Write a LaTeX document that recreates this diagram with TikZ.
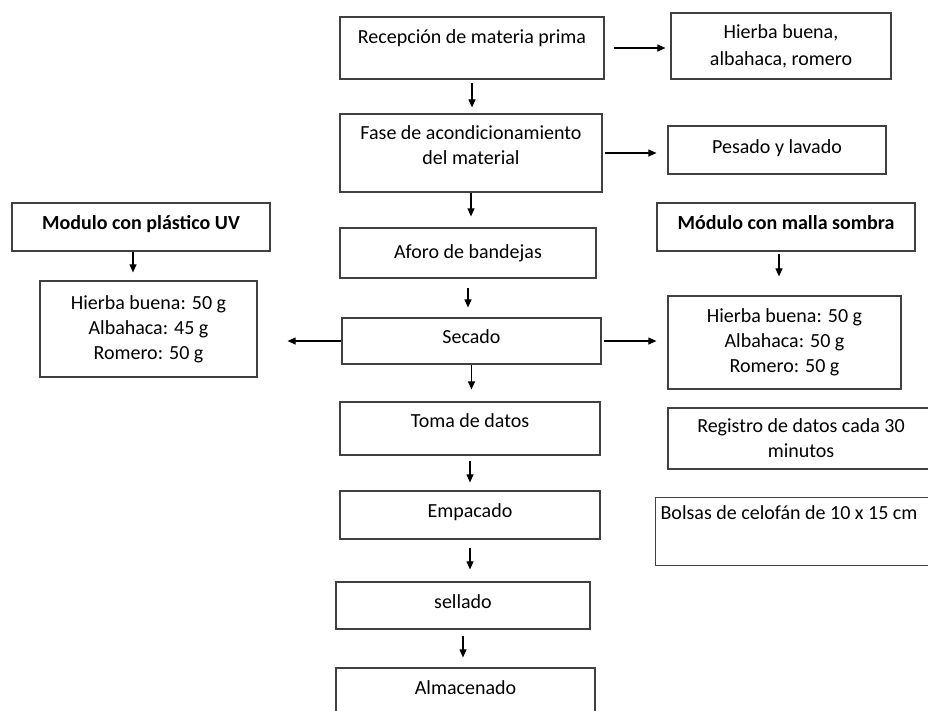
\documentclass[tikz,border=0pt]{standalone}
\usepackage{fontspec}
\setmainfont{Carlito}
\usetikzlibrary{arrows.meta}
\tikzset{
	box/.style = {draw=black!75, line width=1.2pt, align=center, inner sep=0pt},
	textup/.style 2 args = {text height=#1pt, text depth=#2pt},
	arr/.style = {-{Triangle[length=8pt,width=7pt]}, line width=1.1pt},
	flow/.style = {arr, shorten <=4pt, shorten >=9pt}}

\begin{document}
\begin{tikzpicture}[x=1pt, y=-1pt, node font=\fontsize{20}{25}\selectfont]
\useasboundingbox (0,0) rectangle (928,710);

% MAIN COLUMN
\node (rec) [box, minimum width=264pt, textup={26}{36}] at (472,48) {Recepción de materia prima};
\node (fase) [box, minimum width=262pt, text width=250pt, align=flush center, textup={25}{53}] at (471,153) {Fase de acondicionamiento\\del material};
\node (aforo) [box, minimum width=256pt, minimum height=50pt] at (468,253) {Aforo de bandejas};
\node (secado) [box, minimum width=259pt, textup={25}{21}] at (471.5,341) {Secado};
\node (toma) [box, minimum width=260pt, textup={25}{28}] at (470,428.5) {Toma de datos};
\node (empacado) [box, minimum width=260pt, textup={26}{22}] at (470,515) {Empacado};
\node (sellado) [box, minimum width=254pt, textup={26}{21}] at (463,605.5) {sellado};
\node (almacen) [box, minimum width=259pt, textup={26}{34}] at (465.5,698) {Almacenado};

% RIGHT COLUMN
\node (hierbas) [box, minimum width=220pt, minimum height=66pt] at (781,46) {Hierba buena,\\[2pt]albahaca, romero};
\node (pesado) [box, minimum width=218pt, textup={27}{21}] at (777,150) {Pesado y lavado};
\node (malla) [box, minimum width=258pt, textup={26}{22}, font=\bfseries] at (786,227) {Módulo con malla sombra};
\node (mallaqty) [box, minimum width=233pt, minimum height=93pt] at (784.5,342.5) {Hierba buena: 50 g\\Albahaca: 50 g\\Romero: 50 g};
\node (registro) [box, minimum width=266pt, minimum height=61pt] at (801,438.5) {Registro de datos cada 30\\minutos};
\node (bolsas) [box, anchor=north west, text width=290pt, align=flush left, inner xsep=5pt, textup={22}{46}] at (655,497) {Bolsas de celofán de 10 x 15 cm};

% LEFT COLUMN
\node (uv) [box, minimum width=258pt, textup={26}{22}, font=\bfseries] at (141,227) {Modulo con plástico UV};
\node (uvqty) [box, minimum width=217pt, minimum height=96pt] at (148.5,329) {Hierba buena: 50 g\\Albahaca: 45 g\\Romero: 50 g};

% CONNECTIONS
\draw [flow, shorten <=3pt, shorten >=6pt] (rec.south) -- (rec.south |- fase.north);
\draw [flow, shorten <=0pt, shorten >=11pt] (fase.south) -- (fase.south |- aforo.north);
\draw [flow, shorten <=9pt, shorten >=10pt] (aforo.south) -- (aforo.south |- secado.north);
\draw [flow, shorten <=0pt, shorten >=12pt] (secado.south) -- (secado.south |- toma.north);
\draw [flow, shorten <=5pt, shorten >=8pt] (toma.south) -- (toma.south |- empacado.north);
\draw [flow, shorten <=8pt, shorten >=12pt] (empacado.south) -- (empacado.south |- sellado.north);
\draw [flow, shorten <=6pt, shorten >=10pt] (sellado.south) -- (sellado.south |- almacen.north);

\draw [arr, shorten <=9pt, shorten >=5pt] (rec.east) -- (rec.east -| hierbas.west);
\draw [arr, shorten <=2pt, shorten >=11pt] (fase.east) -- (fase.east -| pesado.west);
\draw [arr, shorten <=2pt, shorten >=11pt] (secado.east) -- (secado.east -| mallaqty.west);
\draw [arr, shorten >=30pt] (secado.west) -- (secado.west -| uvqty.east);

\draw [arr, shorten >=8pt] ([xshift=-8pt]uv.south) -- ([xshift=-8pt]uv.south |- uvqty.north);
\draw [arr, shorten <=2pt, shorten >=19pt] ([xshift=-7pt]malla.south) -- ([xshift=-7pt]malla.south |- mallaqty.north);

\end{tikzpicture}
\end{document}
